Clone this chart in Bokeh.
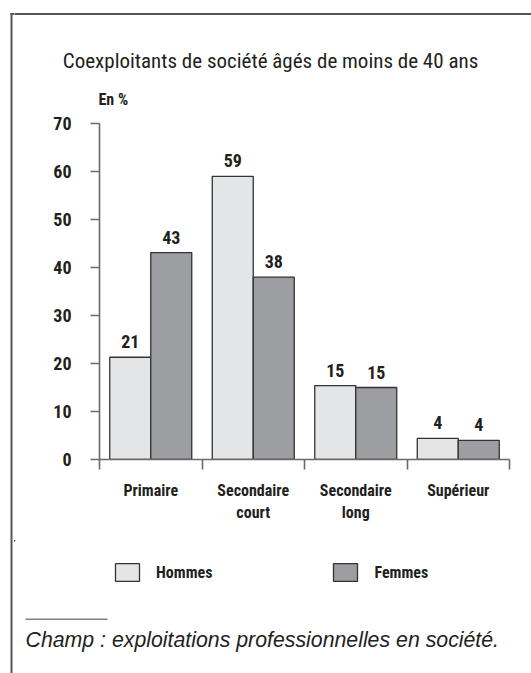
import numpy as np
from bokeh.plotting import figure
from bokeh.layouts import column, row
from bokeh.models import (Range1d, LinearAxis, FixedTicker, Label, Legend, LegendItem,
                          BoxAnnotation, ColumnDataSource)
from bokeh.core.properties import value
from bokeh.embed import file_html
from bokeh.resources import INLINE

# ---------------- data ----------------
categories = ["Primaire", "Secondaire\ncourt", "Secondaire\nlong", "Supérieur"]
hommes = [21.3, 59.0, 15.4, 4.4]
femmes = [43.1, 38.0, 15.0, 4.0]
hommes_labels = ["21", "59", "15", "4"]
femmes_labels = ["43", "38", "15", "4"]
y_ticks = [0, 10, 20, 30, 40, 50, 60, 70]
series_names = ["Hommes", "Femmes"]
title_text = "Coexploitants de société âgés de moins de 40 ans"
unit_text = "En %"
note_text = "Champ : exploitations professionnelles en société."

# ---------------- style ----------------
LIGHT = "#e4e5e7"
DARK = "#9d9ea2"
OUTLINE = "#333333"
AXIS = "#6a6a6a"
FRAME = "#555555"
TXT = "#231f20"
NARROW = "'Roboto Condensed', 'DejaVu Sans Condensed', 'Arial Narrow', Roboto"
SANS = "'Liberation Sans', Arial"

TOTAL_W, TOTAL_H = 531, 673
STRIP_W = 14
TOP_H, CHART_H = 108, 432
YMAX = 70
n = len(categories)
TXT_SHIFT = 7   # baseline correction for labels


def deco_figure(x0, x1, y0, y1):
    """Blank figure whose data coordinates equal page pixels."""
    f = figure(width=x1 - x0, height=y1 - y0, output_backend="svg",
               toolbar_location=None, x_range=Range1d(x0, x1), y_range=Range1d(y1, y0),
               x_axis_type=None, y_axis_type=None, title_location=None,
               min_border_left=0, min_border_right=0, min_border_top=0, min_border_bottom=0)
    f.grid.visible = False
    f.outline_line_color = None
    f.background_fill_color = "white"
    f.border_fill_color = "white"
    return f


def frame_line(fig, left, right, top, bottom):
    fig.add_layout(BoxAnnotation(left=left, right=right, top=top, bottom=bottom,
                                 fill_color=FRAME, fill_alpha=1, line_color=None))


# ---------- full-height strip holding the left frame line ----------
strip = deco_figure(0, STRIP_W, 0, TOTAL_H)
frame_line(strip, 10, 12, 12.5, TOTAL_H + 5)
frame_line(strip, 10, STRIP_W + 5, 12.5, 14.5)

# ---------- top: frame line, title, unit ----------
top = deco_figure(STRIP_W, TOTAL_W, 0, TOP_H)
frame_line(top, STRIP_W - 5, TOTAL_W + 5, 12.5, 14.5)
top.add_layout(Label(x=270, y=67 - TXT_SHIFT, text=title_text, text_align="center",
                     text_baseline="alphabetic", text_font=NARROW,
                     text_font_size="21px", text_color=TXT))
top.add_layout(Label(x=98, y=106 - TXT_SHIFT, text=unit_text, text_align="left",
                     text_baseline="alphabetic", text_font=NARROW, text_font_style="bold",
                     text_font_size="16px", text_color=TXT))

# ---------- chart ----------
CW = TOTAL_W - STRIP_W
FL, FR = 85, 495
FT = 123 - TOP_H
FB = 459 - TOP_H
p = figure(width=CW, height=CHART_H, output_backend="svg", toolbar_location=None,
           x_range=Range1d(0, n), y_range=Range1d(0, YMAX), x_axis_type=None,
           title_location=None,
           min_border_left=FL, min_border_right=CW - FR,
           min_border_top=FT, min_border_bottom=CHART_H - FB)
p.grid.visible = False
p.outline_line_color = None
p.background_fill_color = "white"
p.border_fill_color = "white"

idx = np.arange(n)
src = ColumnDataSource(dict(xh=idx + 0.3, xf=idx + 0.7, h=hommes, f=femmes,
                            hl=hommes_labels, fl=femmes_labels))

bar_h = dict(fill_color=LIGHT, line_color=OUTLINE, line_width=1.3)
bar_f = dict(fill_color=DARK, line_color=OUTLINE, line_width=1.3)
p.vbar(x="xh", top="h", bottom=0, width=0.4, source=src, **bar_h)
p.vbar(x="xf", top="f", bottom=0, width=0.4, source=src, **bar_f)

for xcol, ycol, tcol in (("xh", "h", "hl"), ("xf", "f", "fl")):
    p.text(x=xcol, y=ycol, text=tcol, source=src, text_align="center",
           text_baseline="bottom", y_offset=-9, text_font=value(NARROW),
           text_font_style="bold", text_font_size="18px", text_color=TXT)

yax = p.yaxis[0]
yax.ticker = FixedTicker(ticks=y_ticks)
yax.major_tick_out = 9
yax.major_tick_in = 0
yax.minor_tick_line_color = None
yax.axis_line_color = AXIS
yax.axis_line_width = 1.6
yax.major_tick_line_color = AXIS
yax.major_tick_line_width = 1.6
yax.major_label_text_font = NARROW
yax.major_label_text_font_style = "bold"
yax.major_label_text_font_size = "18px"
yax.major_label_text_color = TXT
yax.major_label_standoff = 19

xb = LinearAxis(ticker=FixedTicker(ticks=list(range(n + 1))),
                major_label_overrides={i: "" for i in range(n + 1)},
                major_tick_out=10, major_tick_in=0, minor_tick_line_color=None,
                axis_line_color=AXIS, axis_line_width=1.6,
                major_tick_line_color=AXIS, major_tick_line_width=1.6,
                major_label_standoff=0, major_label_text_font_size="1px")
p.add_layout(xb, "below")

xl = LinearAxis(ticker=FixedTicker(ticks=[i + 0.5 for i in range(n)]),
                major_label_overrides={i + 0.5: c for i, c in enumerate(categories)},
                axis_line_color=None, major_tick_line_color=None,
                minor_tick_line_color=None, major_tick_out=0, major_tick_in=0,
                major_label_standoff=11, major_label_text_font=NARROW,
                major_label_text_font_style="bold", major_label_text_font_size="16px",
                major_label_text_color=TXT)
p.add_layout(xl, "below")

# ---------- bottom: legend, separator, note ----------
bot = deco_figure(STRIP_W, TOTAL_W, TOP_H + CHART_H, TOTAL_H)
# legend keys: same series renderers, their bars fall outside this panel's range
lh = bot.vbar(x="xh", top="h", bottom=0, width=0.4, source=src, **bar_h)
lf = bot.vbar(x="xf", top="f", bottom=0, width=0.4, source=src, **bar_f)
legend = Legend(items=[LegendItem(label=series_names[0], renderers=[lh]),
                       LegendItem(label=series_names[1], renderers=[lf])],
                orientation="horizontal", location=(112 - STRIP_W, TOTAL_H - 583),
                glyph_width=30, glyph_height=22, label_standoff=14, spacing=118,
                padding=0, margin=0, border_line_color=None, background_fill_alpha=0,
                label_text_font=NARROW, label_text_font_style="bold",
                label_text_font_size="16px", label_text_color=TXT)
bot.add_layout(legend, "center")
bot.add_layout(BoxAnnotation(left=25, right=107, top=618, bottom=619.5,
                             fill_color="#808080", fill_alpha=1, line_color=None))
bot.add_layout(Label(x=25, y=646 - TXT_SHIFT, text=note_text, text_align="left",
                     text_baseline="alphabetic", text_font=SANS, text_font_style="italic",
                     text_font_size="21.3px", text_color=TXT))

layout = row(strip, column(top, row(p, spacing=0), bot, spacing=0), spacing=0)
open("out.html", "w").write(file_html(layout, INLINE))
